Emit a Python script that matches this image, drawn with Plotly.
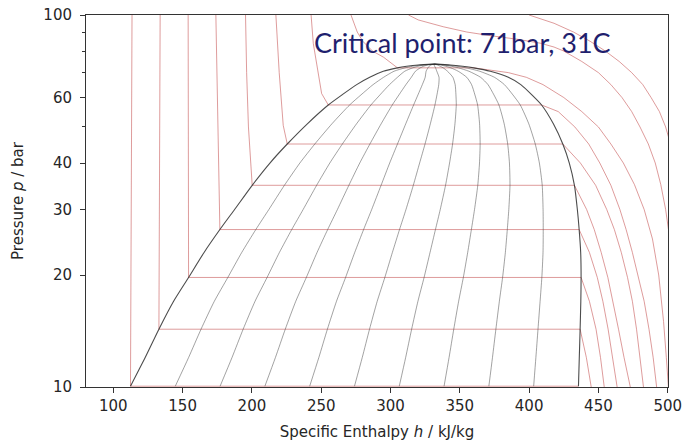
import plotly.graph_objects as go

# ---------------- data ----------------
# saturation dome of CO2: pressure [bar], saturated liquid / vapour enthalpy [kJ/kg]
sat_p  = [10.05, 12, 14.3, 17, 19.7, 23, 26.5, 30, 34.85, 40, 45.0, 51, 57.3, 61, 65, 68, 70.6, 72.1, 72.8, 73.4, 73.8]
sat_hL = [112.4, 123, 132.9, 143.5, 154.3, 165.5, 176.9, 187.5, 200.2, 213, 225.5, 240, 255.1, 265, 275.6, 285, 294.8, 305, 311.7, 320, 332]
sat_hV = [435.6, 436.2, 436.8, 437.3, 437.5, 437.2, 436.1, 434.8, 432.7, 429, 424.3, 417.5, 409, 402, 394, 385, 372, 360, 352, 343, 332]

# vapour quality lines
qualities = [0.1, 0.2, 0.3, 0.4, 0.5, 0.6, 0.7, 0.8, 0.9]

# isotherms (°C): pressure [bar] and enthalpy [kJ/kg] along each line
iso_m40_p = [100, 10.05, 10.05]
iso_m40_h = [113.5, 112.4, 435.6]
iso_m30_p = [100, 14.3, 14.3, 12, 10]
iso_m30_h = [133.8, 132.9, 436.8, 441.3, 444.8]
iso_m20_p = [100, 19.7, 19.7, 17, 14.3, 12, 10]
iso_m20_h = [154.0, 154.3, 437.5, 443.5, 448.3, 451.5, 454.2]
iso_m10_p = [100, 60, 26.5, 26.5, 23, 19.7, 17, 14.3, 12, 10]
iso_m10_h = [174.0, 175.2, 176.9, 436.1, 443.5, 449.2, 453.2, 457, 460.3, 463.5]
iso_0_p = [100, 70, 50, 34.85, 34.85, 30, 26.5, 23, 19.7, 17, 14.3, 12, 10]
iso_0_h = [195.4, 196.2, 197.5, 200.2, 432.7, 441.5, 447, 452, 456.8, 460.5, 464.5, 468.5, 473]
iso_10_p = [100, 70, 50.5, 45.0, 45.0, 40, 34.85, 30, 26.5, 23, 19.7, 17, 14.3, 12, 10]
iso_10_h = [217.3, 219.7, 222.6, 225.5, 424.3, 437, 448, 456, 461.5, 466.5, 471, 474.5, 477.5, 480, 482.5]
iso_20_p = [100, 83.8, 61.5, 57.3, 57.3, 55, 50, 45, 40, 34.85, 30, 26.5, 23, 19.7, 17, 14.3, 12, 10]
iso_20_h = [242.7, 244.3, 250.3, 255.1, 409, 421, 433, 443, 451, 459, 465.5, 470, 474.5, 479, 483, 486.5, 489.5, 492]
iso_30_p = [100, 90, 85, 80, 77, 74, 72.1, 72.1, 71, 70, 68, 65, 60, 55, 50, 45, 40, 35, 30, 25, 20, 15, 12, 10]
iso_30_h = [271.5, 276, 280, 287, 295, 301, 305, 360, 374, 385, 398, 410, 425, 438, 450, 459, 468, 476, 483, 489, 493.5, 497, 499, 500.5]
iso_40_p = [100, 97, 93, 90, 88, 86, 84, 82, 80, 75, 70, 65, 60, 55, 50, 45, 40, 35, 30, 25, 20]
iso_40_h = [313, 320, 338, 355, 372, 392, 408, 418, 425, 438, 450, 459, 467, 474, 480, 486, 491, 495, 498.5, 501.5, 504.5]
iso_50_p = [100, 95, 90, 85, 80, 75, 70, 65, 60, 55, 50, 45]
iso_50_h = [400, 418, 432, 444, 455, 465, 474, 482, 488, 494, 498.5, 502]

isotherms = [
    (iso_m40_p, iso_m40_h), (iso_m30_p, iso_m30_h), (iso_m20_p, iso_m20_h),
    (iso_m10_p, iso_m10_h), (iso_0_p, iso_0_h), (iso_10_p, iso_10_h),
    (iso_20_p, iso_20_h), (iso_30_p, iso_30_h), (iso_40_p, iso_40_h),
    (iso_50_p, iso_50_h),
]

x_ticks = [100, 150, 200, 250, 300, 350, 400, 450, 500]
y_ticks = [10, 20, 30, 40, 60, 100]
y_minor = [50, 70, 80, 90]

# ---------------- figure ----------------
RED = "rgba(200,90,90,0.6)"
GREY = "rgba(60,60,60,0.6)"
DOME = "rgba(45,45,45,0.85)"

fig = go.Figure()

for p_list, h_list in isotherms:
    fig.add_trace(go.Scatter(x=h_list, y=p_list, mode="lines",
                             line=dict(color=RED, width=1),
                             hoverinfo="skip", showlegend=False))

for q in qualities:
    hq = [hl + q * (hv - hl) for hl, hv in zip(sat_hL, sat_hV)]
    fig.add_trace(go.Scatter(x=hq, y=sat_p, mode="lines",
                             line=dict(color=GREY, width=0.8, shape="spline", smoothing=0.6),
                             hoverinfo="skip", showlegend=False))

dome_h = sat_hL + sat_hV[::-1]
dome_p = sat_p + sat_p[::-1]
fig.add_trace(go.Scatter(x=dome_h, y=dome_p, mode="lines",
                         line=dict(color=DOME, width=1.1, shape="spline", smoothing=0.6),
                         hoverinfo="skip", showlegend=False))

axis_font = dict(family="DejaVu Sans", size=15, color="#262626")

fig.update_layout(
    width=682, height=443,
    margin=dict(l=86, r=14, t=15, b=56),
    paper_bgcolor="white", plot_bgcolor="white",
    xaxis=dict(range=[80.3, 500.2], tickvals=x_ticks, ticks="outside", ticklen=5,
               tickcolor="#333", showgrid=False, zeroline=False, automargin=False,
               showline=True, linecolor="#333", linewidth=1, mirror=True,
               tickfont=axis_font, ticklabeloverflow="allow",
               title=dict(text="Specific Enthalpy <i>h</i> / kJ/kg", font=axis_font, standoff=12)),
    yaxis=dict(type="log", range=[1, 2], tickvals=y_ticks, ticktext=[str(v) for v in y_ticks],
               ticks="outside", ticklen=5, tickcolor="#333", automargin=False,
               ticklabelstandoff=5, ticklabeloverflow="allow",
               minor=dict(tickvals=y_minor, ticks="outside", ticklen=3, tickcolor="#333", showgrid=False),
               showgrid=False, zeroline=False,
               showline=True, linecolor="#333", linewidth=1, mirror=True,
               tickfont=axis_font,
               title=dict(text="Pressure <i>p</i> / bar", font=axis_font, standoff=16)),
    annotations=[dict(text="Critical point: 71bar, 31C", xref="paper", yref="paper",
                      x=0.388, y=0.925, xanchor="left", yanchor="middle", showarrow=False,
                      font=dict(family="Lato", size=27, color="#1f1f6e"))],
)

fig.write_html("out.html", config={"displayModeBar": False},
               post_script="document.body.style.margin='0';document.body.style.overflow='hidden';")
